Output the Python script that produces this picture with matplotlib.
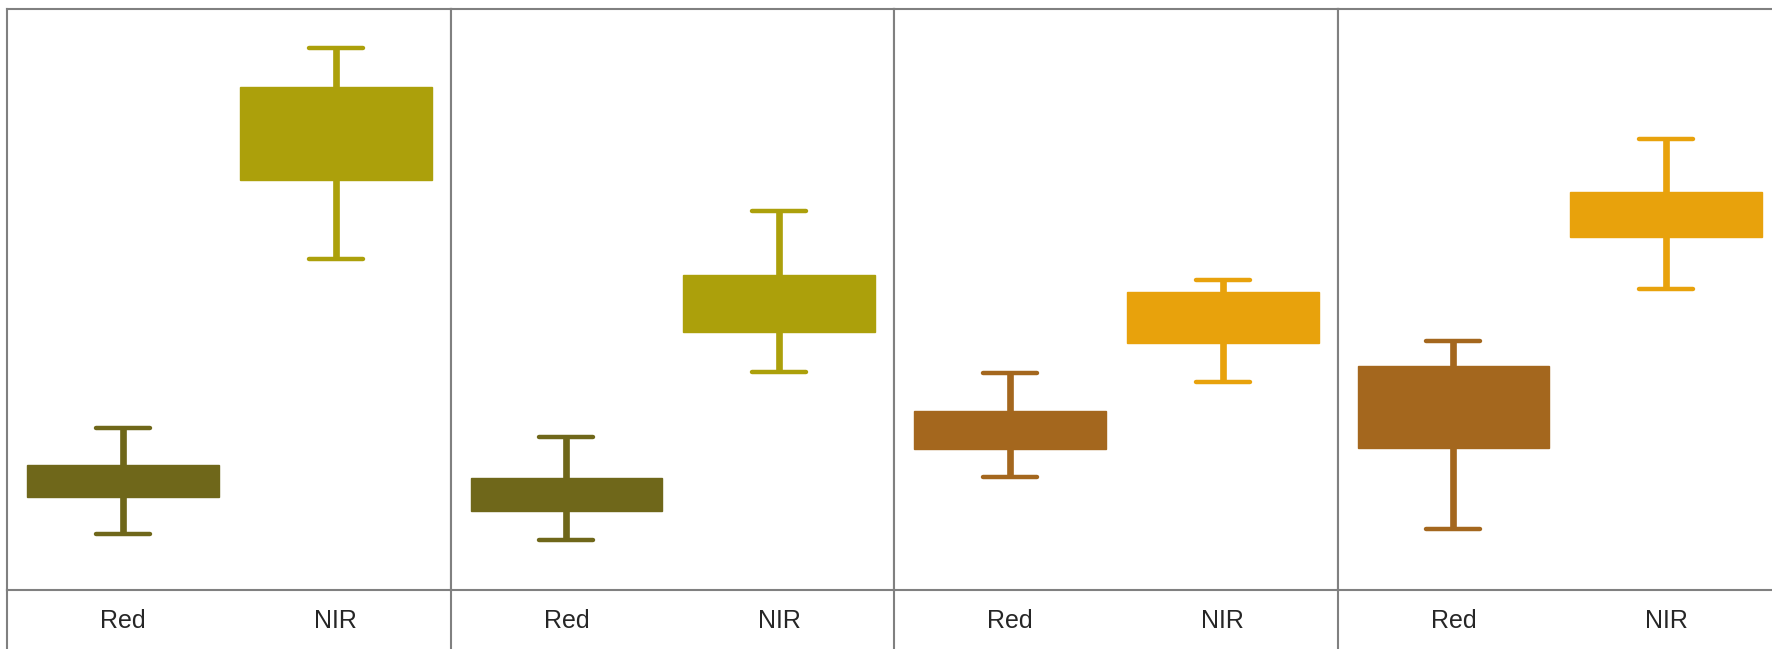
import matplotlib
matplotlib.use("Agg")
import matplotlib.pyplot as plt
from matplotlib.lines import Line2D

# ---- data (arbitrary value scale 0-100) ----
categories = ["Red", "NIR"]
panels = ["A", "B", "C", "D"]
whisker_low = {
    "A": [9.6, 57.0],
    "B": [8.6, 37.5],
    "C": [19.5, 35.8],
    "D": [10.5, 51.8],
}
q1 = {
    "A": [16.0, 70.6],
    "B": [13.6, 44.4],
    "C": [24.3, 42.5],
    "D": [24.4, 60.8],
}
q3 = {
    "A": [21.5, 86.6],
    "B": [19.3, 54.2],
    "C": [30.8, 51.3],
    "D": [38.6, 68.5],
}
whisker_high = {
    "A": [27.9, 93.3],
    "B": [26.3, 65.2],
    "C": [37.4, 53.4],
    "D": [42.9, 77.6],
}
colors = {
    "A": ["#6F671A", "#ACA00B"],
    "B": ["#6F671A", "#ACA00B"],
    "C": ["#A4671E", "#E8A20C"],
    "D": ["#A4671E", "#E8A20C"],
}

W, H = 1772, 649
fig = plt.figure(figsize=(W / 100, H / 100), dpi=100)
fig.patch.set_facecolor("white")

border = "#808080"
left0 = 7.0
pw = 443.5
top_px = 9.0
sep_px = 590.0

box_w = 0.9
cap_half = 0.127

for k, p in enumerate(panels):
    lx = left0 + pw * k
    ax = fig.add_axes([lx / W, (H - sep_px) / H, pw / W, (sep_px - top_px) / H])
    ax.set_xlim(-0.544, 1.539)
    ax.set_ylim(0, 100)
    xs = list(range(len(categories)))
    for i, x in enumerate(xs):
        c = colors[p][i]
        ax.bar(x, q3[p][i] - q1[p][i], bottom=q1[p][i], width=box_w,
               color=c, edgecolor=c, linewidth=1.0, zorder=3)
        ax.vlines(x, q3[p][i], whisker_high[p][i], color=c, linewidth=4.8,
                  zorder=2, capstyle="butt")
        ax.vlines(x, whisker_low[p][i], q1[p][i], color=c, linewidth=4.8,
                  zorder=2, capstyle="butt")
        for yv in (whisker_high[p][i], whisker_low[p][i]):
            ax.hlines(yv, x - cap_half, x + cap_half, color=c, linewidth=3.2,
                      capstyle="round", zorder=2)
    ax.set_xticks(xs)
    ax.set_xticklabels(categories, fontsize=18, color="#262626",
                       fontfamily="Liberation Sans")
    ax.tick_params(axis="x", length=0, pad=13.5)
    ax.set_yticks([])
    for s in ax.spines.values():
        s.set_color(border)
        s.set_linewidth(1.5)
    # vertical divider continuing through the label strip
    fig.add_artist(Line2D([lx / W, lx / W], [0, (H - sep_px) / H],
                          color=border, linewidth=1.5))

fig.savefig("out.png", dpi=100, facecolor="white")
